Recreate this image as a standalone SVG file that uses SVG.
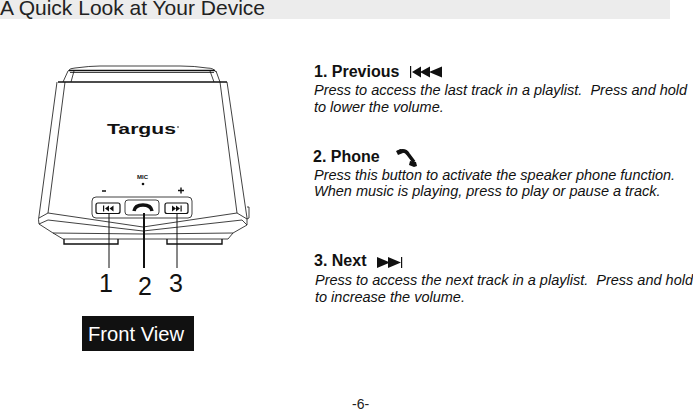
<svg xmlns="http://www.w3.org/2000/svg" width="693" height="410" viewBox="0 0 693 410">
<style>
text{font-family:"Liberation Sans",Arial,sans-serif;fill:#111;white-space:pre}
.h{font-size:16px;font-weight:bold}
.b{font-size:14.5px;font-style:italic}
.l{fill:none;stroke:#111;stroke-width:.8}
.t{fill:none;stroke:#111;stroke-width:1.4}
.k{fill:#111;stroke:none}
.n{font-size:25px}
</style>
<rect x="0" y="0" width="670" height="19" fill="#ececec"/>
<text x="0" y="15" font-size="21" style="fill:#222">A Quick Look at Your Device</text>
<g id="device">
<path class="l" d="M68 71Q70 68 75 68Q90 66 100 66H180Q195 66 207 68Q214 68 216 72"/>
<path class="t" d="M69 70.500H215"/>
<path class="l" d="M70 72.500H214M68 71L63 82M74 71L71 82M216 71L220 82M210 71L214 82"/>
<path class="t" d="M58 82H227"/>
<path class="l" d="M57 82L39 216Q38 219 39 224L53 233L63 239H228L233 233L247 225V218L227 82M65 82L48 213M220 82L237 213"/>
<path class="l" d="M48 213L143 227L237 213L247 219M48 213L39 218M39 224L48 220L143 231L242 220L247 225M53 233L143 234L233 233"/>
<path class="l" d="M247 207H249V218L247 219"/>
<path class="t" d="M64 239V244H118V239M167 239V244H222V239"/>
<g id="logo"><text x="107" y="134" font-size="15.500" font-weight="bold" textLength="69" lengthAdjust="spacingAndGlyphs">Targus</text><circle cx="178" cy="127" r=".8" class="k"/></g>
<text x="137" y="179" font-size="6" font-weight="bold">MIC</text>
<circle cx="143" cy="184" r="1.300" class="k"/>
<path class="t" d="M102 191H106M178 190.500H184M181 187.500V193.500"/>
<rect class="l" x="92" y="197" width="100" height="21" rx="4"/>
<rect class="l" x="96" y="203" width="24" height="10.500" rx="2" style="stroke-width:1.200"/>
<rect class="l" x="125" y="200" width="34" height="15" rx="3"/>
<rect class="l" x="165" y="203" width="23" height="10.500" rx="2" style="stroke-width:1.200"/>
<path class="k" d="M103 205.500h1.200v6h-1.200zM109 205.500v6l-4-3zM113.500 205.500v6l-4-3zM172 205.500v6l4-3zM176 205.500v6l4-3zM180.500 205.500h1.200v6h-1.200z"/>
<path d="M134 211Q135 205 143 205Q151 205 152 211" fill="none" stroke="#111" stroke-width="3.500"/>
</g>
<g id="connectors">
<path fill="none" stroke="#111" stroke-width="1" d="M109 213V268M177 213V268"/>
<path fill="none" stroke="#111" stroke-width="2" d="M144 213V268"/>
</g>
<g id="labels">
<text class="n" x="99" y="292">1</text>
<text class="n" x="138" y="295">2</text>
<text class="n" x="169" y="292">3</text>
</g>
<g id="front-view">
<rect x="82" y="316" width="112" height="35" fill="#111"/>
<text x="88" y="341" font-size="20.200" style="fill:#fff">Front View</text>
</g>
<g id="item1">
<text class="h" x="314" y="77">1. Previous</text>
<path class="k" d="M410 66h1.200v12h-1.200zM412 72L421 66.500V77.500zM420 72L430 66.500V77.500zM429 72L442 66.500V77.500z"/>
<text class="b" x="314" y="95">Press to access the last track in a playlist.  Press and hold</text>
<text class="b" x="314" y="112">to lower the volume.</text>
</g>
<g id="item2">
<text class="h" x="313" y="162">2. Phone</text>
<path d="M398 152Q405 149 408 154L414 162" fill="none" stroke="#111" stroke-width="3.500"/>
<path class="k" d="M396 151l5 -2 2 4-5 2zM410 161l6 1 1 4-3 1-5-2z"/>
<text class="b" x="314" y="180">Press this button to activate the speaker phone function.</text>
<text class="b" x="314" y="196">When music is playing, press to play or pause a track.</text>
</g>
<g id="item3">
<text class="h" x="314" y="266">3. Next</text>
<path class="k" d="M377 257L390 262.500L377 268zM388 257L401 262.500L388 268zM401 257h1.200v11h-1.200z"/>
<text class="b" x="315" y="285">Press to access the next track in a playlist.  Press and hold</text>
<text class="b" x="315" y="302">to increase the volume.</text>
</g>
<text x="352" y="409" font-size="14" style="fill:#222">-6-</text>
</svg>
